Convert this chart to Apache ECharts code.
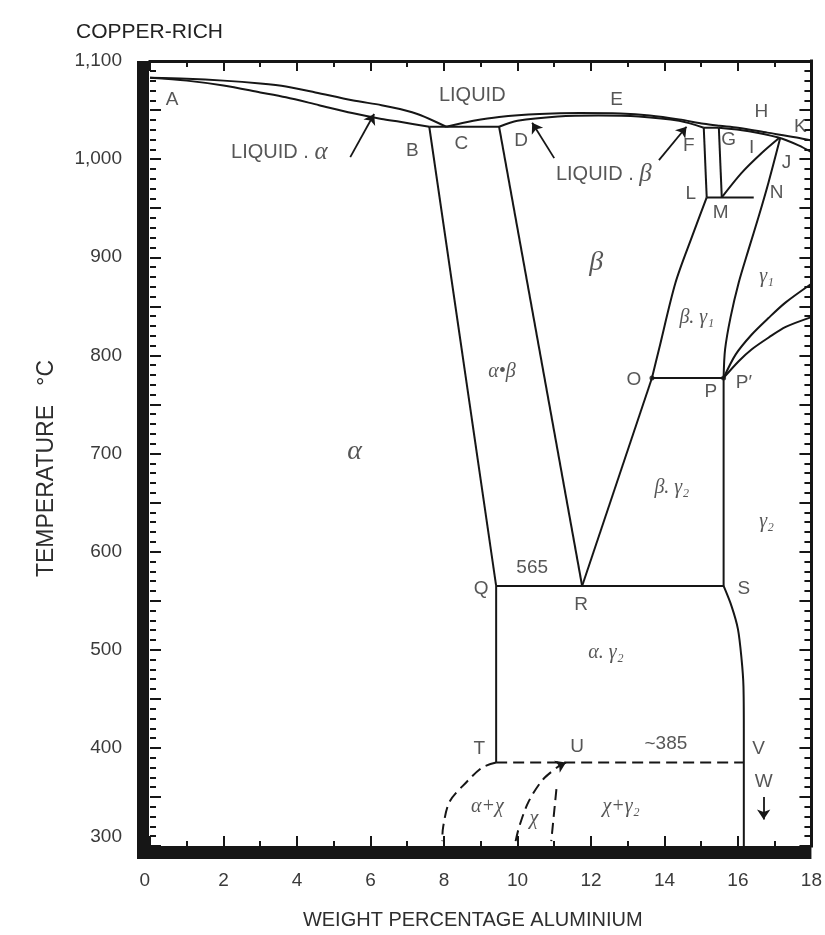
<!DOCTYPE html>
<html>
<head>
<meta charset="utf-8">
<script src="https://cdn.jsdelivr.net/npm/echarts@6/dist/echarts.min.js"></script>
<style>
html,body{margin:0;padding:0;background:#fff;}
#c{width:825px;height:935px;}
</style>
</head>
<body>
<div id="c"></div>
<script>
// ---------- DATA (weight % Al, temperature °C) ----------
const xTicks = [0, 2, 4, 6, 8, 10, 12, 14, 16, 18];
const yTicks = [300, 400, 500, 600, 700, 800, 900, 1000, 1100];

const liquidusAlpha = [[0,1083],[1,1082],[2,1080],[3,1077],[3.7,1074],[4.5,1068],[5.5,1060],[6.3,1055],[6.8,1051],[7.35,1045],[8.06,1033]];
const solidusAlpha  = [[0,1083],[1,1080],[2,1075],[3,1068],[3.7,1063],[4.6,1055],[5.5,1047],[6.3,1041],[6.8,1038],[7.6,1033]];
const eutecticBD    = [[7.6,1033],[9.5,1033]];
const liquidusBeta  = [[8.06,1033],[8.8,1039],[9.5,1043],[10.6,1046],[11.7,1047],[12.8,1046.5],[13.6,1044.5],[14.4,1040.5],[15.07,1036],[15.5,1034],[16.0,1032],[16.8,1027],[17.6,1022],[18,1019]];
const solidusBeta   = [[9.5,1033],[10.0,1039],[11.1,1043.5],[12.2,1044.5],[13.3,1043.5],[14.4,1039],[15.07,1032]];
const lineFG        = [[15.07,1032],[15.48,1032]];
const lineFL        = [[15.07,1032],[15.15,961]];
const lineGM        = [[15.48,1032],[15.56,961]];
const lineLM        = [[15.15,961],[16.43,961]];
const curveGJ       = [[15.48,1032],[16.3,1028.5],[17.1,1022],[17.65,1014],[18,1007]];
const curveMI       = [[15.56,961],[16.1,986],[16.64,1006],[17.12,1021.5]];
const curveJP       = [[17.15,1021.5],[16.83,976],[16.56,941],[16.29,908],[16.02,874],[15.8,839],[15.65,806],[15.61,777]];
const curveOL       = [[13.66,777],[13.85,806],[14.3,874],[14.75,921],[15.15,961]];
const lineBQ        = [[7.6,1033],[9.42,565]];
const lineDR        = [[9.5,1033],[11.76,565]];
const lineRO        = [[11.76,565],[13.66,777]];
const lineOP        = [[13.66,777],[15.61,777]];
const linePS        = [[15.61,777],[15.61,565]];
const lineQS        = [[9.42,565],[15.61,565]];
const lineQT        = [[9.42,565],[9.42,385]];
const curveSV       = [[15.61,565],[15.83,544],[16.0,521],[16.1,490],[16.15,463],[16.16,420],[16.16,385],[16.16,300]];
const curveP1       = [[15.61,777],[15.94,801],[16.37,821],[16.83,838],[17.3,854],[18,873]];
const curveP2       = [[15.61,777],[16.02,794],[16.37,806],[16.83,818],[17.3,829],[18,839]];
const dashTV        = [[9.42,385],[16.16,385]];
const dashAlphaChi  = [[9.42,385],[9.04,380],[8.61,365],[8.15,345],[7.98,320],[7.95,305]];
const dashChiLeft   = [[9.95,305],[10.05,320],[10.3,345],[10.7,368],[11.22,384]];
const dashChiRight  = [[11.06,358],[10.92,305]];
const nodePoints    = [[13.66,777],[15.61,777]];

const arrowFrom = [[5.45,1002],[11.0,1001],[13.85,999],[16.7,350],[11.12,381.5]];
const arrowTo   = [[6.1,1046],[10.4,1037],[14.6,1033],[16.7,327],[11.32,385]];

const letterText = ['A','B','C','D','E','F','G','H','I','J','K','L','M','N','O','P','P′','Q','R','S','T','U','V','W','565','~385','LIQUID'];
const letterX    = [0.6,7.14,8.47,10.1,12.7,14.66,15.75,16.64,16.37,17.32,17.7,14.72,15.53,17.05,13.17,15.26,16.16,9.01,11.73,16.16,8.96,11.62,16.56,16.7,10.4,14.04,8.77];
const letterT    = [1060,1009,1016,1019,1060,1014,1020,1048,1012,996,1033,965,945,966,775,763,772,562,546,562,399,401,399,365,584,404,1065];

const phaseText = ['α','β','α•β','β. γ₁','γ₁','β. γ₂','γ₂','α. γ₂','α+χ','χ','χ+γ₂'];
const phaseX    = [5.57,12.14,9.58,14.88,16.78,14.2,16.78,12.41,9.18,10.45,12.82];
const phaseT    = [702,895,783,838,880,665,630,497,340,328,340];

const mixedText = ['LIQUID . α','LIQUID . β'];
const mixedX    = [3.52,12.35];
const mixedT    = [1007,984];

// ---------- STYLE ----------
const SANS = "'Liberation Sans', Arial, Helvetica, sans-serif";
const SERIF = "'Liberation Serif', 'Times New Roman', serif";
const INK = '#161616';
const TXT = '#2c2c2c';
const bigPhase = {'α':28,'β':28};

function lineSeries(data, opts) {
  opts = opts || {};
  return {
    type: 'line', data: data, symbol: 'none', showSymbol: false, silent: true,
    smooth: opts.smooth || false, clip: true, animation: false, z: 3,
    lineStyle: { color: INK, width: opts.width || 2, type: opts.dash ? [11, 6] : 'solid' }
  };
}

const series = [
  lineSeries(liquidusAlpha, {smooth: 0.3}),
  lineSeries(solidusAlpha, {smooth: 0.3}),
  lineSeries(eutecticBD),
  lineSeries(liquidusBeta, {smooth: 0.3}),
  lineSeries(solidusBeta, {smooth: 0.3}),
  lineSeries(lineFG), lineSeries(lineFL), lineSeries(lineGM), lineSeries(lineLM),
  lineSeries(curveGJ, {smooth: 0.3}),
  lineSeries(curveMI, {smooth: 0.3}),
  lineSeries(curveJP, {smooth: 0.3}),
  lineSeries(curveOL, {smooth: 0.3}),
  lineSeries(lineBQ), lineSeries(lineDR), lineSeries(lineRO), lineSeries(lineOP),
  lineSeries(linePS), lineSeries(lineQS), lineSeries(lineQT),
  lineSeries(curveSV, {smooth: 0.3}),
  lineSeries(curveP1, {smooth: 0.3}),
  lineSeries(curveP2, {smooth: 0.3}),
  lineSeries(dashTV, {dash: true}),
  lineSeries(dashAlphaChi, {dash: true, smooth: 0.3}),
  lineSeries(dashChiLeft, {dash: true, smooth: 0.3}),
  lineSeries(dashChiRight, {dash: true}),
  {
    type: 'scatter', data: nodePoints, symbol: 'circle', symbolSize: 5,
    itemStyle: { color: INK }, silent: true, animation: false, z: 4
  },
  {
    type: 'lines', coordinateSystem: 'cartesian2d', silent: true, animation: false, z: 4,
    symbol: ['none', 'arrow'], symbolSize: 10,
    lineStyle: { color: INK, width: 1.8, curveness: 0, opacity: 1 },
    data: arrowFrom.map((f, i) => ({ coords: [f, arrowTo[i]] }))
  },
  {
    type: 'scatter', silent: true, animation: false, z: 5,
    symbol: 'circle', symbolSize: 1, itemStyle: { color: 'transparent' },
    label: { show: true, position: 'inside', formatter: p => p.name,
      fontFamily: SANS, fontSize: 19, color: TXT },
    data: letterText.map((t, i) => ({
      name: t, value: [letterX[i], letterT[i]],
      label: t === 'LIQUID' ? { fontSize: 20 } : {}
    }))
  },
  {
    type: 'scatter', silent: true, animation: false, z: 5,
    symbol: 'circle', symbolSize: 1, itemStyle: { color: 'transparent' },
    label: { show: true, position: 'inside', formatter: p => p.name,
      fontFamily: SERIF, fontStyle: 'italic', fontSize: 20, color: TXT },
    data: phaseText.map((t, i) => ({
      name: t, value: [phaseX[i], phaseT[i]],
      label: { fontSize: bigPhase[t] || 20 }
    }))
  },
  {
    type: 'scatter', silent: true, animation: false, z: 5,
    symbol: 'circle', symbolSize: 1, itemStyle: { color: 'transparent' },
    label: { show: true, position: 'inside', color: TXT,
      formatter: p => '{s|' + p.name.slice(0, -1) + '}{g|' + p.name.slice(-1) + '}',
      rich: {
        s: { fontFamily: SANS, fontSize: 20, color: TXT },
        g: { fontFamily: SERIF, fontStyle: 'italic', fontSize: 25, color: TXT }
      }
    },
    data: mixedText.map((t, i) => ({ name: t, value: [mixedX[i], mixedT[i]] }))
  }
];

function axisLine(width, cap) {
  return { show: width > 0, onZero: false, lineStyle: { color: INK, width: width || 1, cap: cap || 'butt' } };
}
function ticks(len) {
  return { show: true, inside: true, length: len, lineStyle: { color: INK, width: 2 } };
}
function tickAxis(base, extra) {
  return Object.assign({
    type: 'value', splitLine: { show: false }, axisLabel: { show: false },
    axisLine: axisLine(0), axisTick: { show: false }
  }, base, extra);
}

const option = {
  backgroundColor: '#ffffff',
  animation: false,
  title: {
    text: 'COPPER-RICH', left: 71, top: 17,
    textStyle: { fontFamily: SANS, fontSize: 21, fontWeight: 'normal', color: '#222' }
  },
  grid: { left: 150, right: 12, top: 61, bottom: 88, containLabel: false },
  xAxis: [
    {
      type: 'value', position: 'bottom', min: xTicks[0], max: xTicks[xTicks.length - 1], interval: 2,
      axisLine: axisLine(0),
      axisTick: ticks(10),
      splitLine: { show: false },
      axisLabel: { margin: 25, fontFamily: SANS, fontSize: 19, color: '#3a3a3a', alignMinLabel: 'right' },
      name: 'WEIGHT PERCENTAGE ALUMINIUM', nameLocation: 'middle', nameGap: 64,
      nameTextStyle: { fontFamily: SANS, fontSize: 20, color: '#2e2e2e', padding: [0, 16, 0, 0] }
    },
    tickAxis({ position: 'bottom', min: 0, max: 18, interval: 1 }, { axisTick: ticks(5) }),
    tickAxis({ position: 'bottom', min: 0, max: 18, interval: 2, offset: 6.5 }, { axisLine: axisLine(13) }),
    tickAxis({ position: 'top', min: 0, max: 18, interval: 2 }, { axisLine: axisLine(3, 'square'), axisTick: ticks(10) }),
    tickAxis({ position: 'top', min: 0, max: 18, interval: 1 }, { axisTick: ticks(6) })
  ],
  yAxis: [
    {
      type: 'value', position: 'left', min: yTicks[0], max: yTicks[yTicks.length - 1], interval: 50,
      axisLine: axisLine(0),
      axisTick: ticks(11),
      splitLine: { show: false },
      axisLabel: {
        margin: 28, fontFamily: SANS, fontSize: 19, color: '#3a3a3a',
        verticalAlignMinLabel: 'bottom',
        formatter: v => yTicks.indexOf(v) < 0 ? '' : (v >= 1000 ? Math.floor(v / 1000) + ',' + String(v % 1000).padStart(3, '0') : String(v))
      },
      name: 'TEMPERATURE   °C', nameLocation: 'middle', nameGap: 92, nameRotate: 90,
      nameTextStyle: { fontFamily: SANS, fontSize: 23, color: '#2e2e2e', padding: [0, 30, 0, 0] }
    },
    tickAxis({ position: 'left', min: 300, max: 1100, interval: 10 }, { axisTick: ticks(6) }),
    tickAxis({ position: 'left', min: 300, max: 1100, interval: 50, offset: 7 }, { axisLine: axisLine(12) }),
    tickAxis({ position: 'right', min: 300, max: 1100, interval: 50 }, { axisLine: axisLine(3, 'square'), axisTick: ticks(12) }),
    tickAxis({ position: 'right', min: 300, max: 1100, interval: 10 }, { axisTick: ticks(7) })
  ],
  series: series
};

const chart = echarts.init(document.getElementById('c'), null, { renderer: 'canvas' });
chart.setOption(option);
const corner = chart.convertToPixel({ gridIndex: 0 }, [0, 300]);
chart.setOption({
  graphic: [{ type: 'rect', z: 10, shape: { x: corner[0] - 13, y: corner[1] - 0.5, width: 14, height: 13.5 }, style: { fill: INK } }]
});
</script>
</body>
</html>
